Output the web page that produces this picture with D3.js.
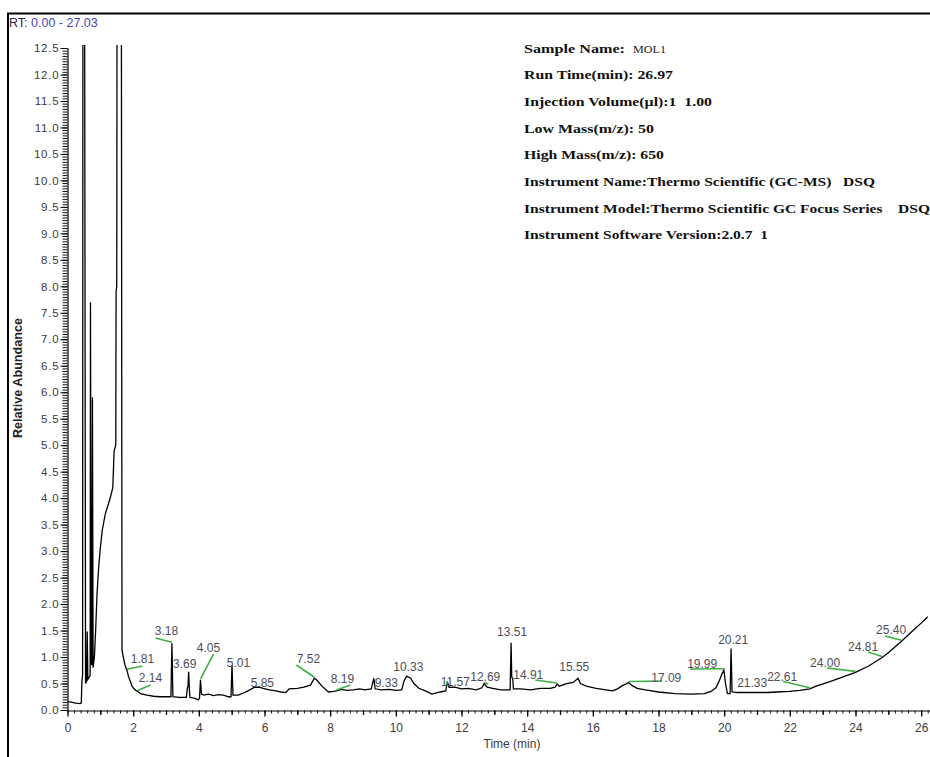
<!DOCTYPE html>
<html>
<head>
<meta charset="utf-8">
<script src="https://cdn.jsdelivr.net/npm/d3@7"></script>
<style>
  html, body { margin: 0; padding: 0; background: #fff; }
  svg { display: block; }
  .info { font-family: "Liberation Serif", "Times New Roman", serif; font-weight: bold; font-size: 13.5px; fill: #111; white-space: pre; }
</style>
</head>
<body>
<svg id="chart" width="930" height="757"></svg>
<script>
// Total ion chromatogram of sample MOL1 (retention time in minutes, relative abundance)
const traceTime = [
  0.00, 0.12, 0.25, 0.38, 0.42, 0.44, 0.46, 0.47, 0.52, 0.55,
  0.58, 0.60, 0.62, 0.66, 0.69, 0.70, 0.72, 0.74, 0.76, 0.78,
  0.82, 0.86, 0.90, 0.95, 0.99, 1.06, 1.15, 1.25, 1.32, 1.38,
  1.42, 1.47, 1.48, 1.50, 1.51, 1.64, 1.66, 1.70, 1.75, 1.81,
  1.86, 1.92, 1.97, 2.06, 2.14, 2.22, 2.42, 2.62, 2.82, 3.00,
  3.15, 3.18, 3.21, 3.40, 3.62, 3.65, 3.67, 3.69, 3.71, 3.73,
  3.88, 3.98, 4.02, 4.05, 4.08, 4.15, 4.30, 4.45, 4.60, 4.75,
  4.90, 4.98, 5.01, 5.04, 5.20, 5.40, 5.55, 5.70, 5.85, 5.95,
  6.15, 6.35, 6.50, 6.65, 6.75, 7.00, 7.20, 7.40, 7.52, 7.60,
  7.75, 7.95, 8.10, 8.19, 8.35, 8.50, 8.70, 8.90, 9.05, 9.25,
  9.33, 9.37, 9.55, 9.80, 10.00, 10.18, 10.25, 10.33, 10.45, 10.55,
  10.70, 10.90, 11.10, 11.35, 11.52, 11.57, 11.62, 11.80, 12.00, 12.20,
  12.45, 12.62, 12.69, 12.78, 12.95, 13.20, 13.48, 13.51, 13.53, 13.56,
  13.58, 13.80, 14.10, 14.40, 14.70, 14.85, 14.91, 14.98, 15.20, 15.40,
  15.55, 15.62, 15.80, 16.10, 16.40, 16.60, 16.75, 16.90, 17.00, 17.09,
  17.20, 17.35, 17.60, 18.00, 18.50, 19.00, 19.40, 19.60, 19.75, 19.85,
  19.93, 19.99, 20.04, 20.10, 20.18, 20.21, 20.24, 20.40, 20.80, 21.33,
  21.60, 22.00, 22.30, 22.61, 22.80, 23.20, 23.60, 24.00, 24.40, 24.81,
  25.00, 25.40, 25.80, 26.00, 26.20
];
const traceAbundance = [
  0.16, 0.15, 0.13, 0.12, 0.13, 0.55, 0.66, 14, 14, 0.50,
  0.55, 1.48, 0.58, 0.62, 0.65, 7.70, 0.90, 0.85, 5.90, 0.80,
  1.00, 1.55, 2.20, 2.70, 3.00, 3.40, 3.70, 3.90, 4.05, 4.20,
  4.90, 5.00, 7.90, 8.00, 14, 14, 1.13, 1.00, 0.85, 0.75,
  0.63, 0.53, 0.44, 0.38, 0.35, 0.31, 0.28, 0.26, 0.25, 0.25,
  0.25, 1.26, 0.25, 0.24, 0.24, 0.42, 0.45, 0.72, 0.40, 0.24,
  0.22, 0.19, 0.22, 0.57, 0.30, 0.28, 0.30, 0.27, 0.29, 0.28,
  0.25, 0.25, 0.85, 0.28, 0.28, 0.33, 0.38, 0.43, 0.43, 0.41,
  0.38, 0.36, 0.34, 0.33, 0.40, 0.41, 0.43, 0.47, 0.60, 0.56,
  0.45, 0.34, 0.35, 0.36, 0.39, 0.37, 0.38, 0.40, 0.38, 0.40,
  0.60, 0.40, 0.38, 0.39, 0.37, 0.38, 0.55, 0.64, 0.60, 0.50,
  0.41, 0.36, 0.30, 0.34, 0.36, 0.53, 0.43, 0.43, 0.40, 0.41,
  0.38, 0.42, 0.50, 0.43, 0.41, 0.38, 0.38, 1.27, 0.62, 0.60,
  0.40, 0.40, 0.38, 0.41, 0.41, 0.43, 0.49, 0.45, 0.50, 0.52,
  0.60, 0.50, 0.45, 0.41, 0.38, 0.36, 0.40, 0.46, 0.49, 0.52,
  0.46, 0.41, 0.38, 0.34, 0.31, 0.30, 0.31, 0.35, 0.42, 0.55,
  0.68, 0.76, 0.50, 0.31, 0.31, 1.16, 0.34, 0.33, 0.33, 0.33,
  0.34, 0.35, 0.37, 0.40, 0.45, 0.53, 0.62, 0.71, 0.83, 0.99,
  1.08, 1.30, 1.53, 1.64, 1.76
];

// Retention times of the labelled peaks
const peakRT = [
  1.81, 2.14, 3.18, 3.69, 4.05, 5.01, 5.85, 7.52, 8.19, 9.33, 10.33, 11.57,
  12.69, 13.51, 14.91, 15.55, 17.09, 19.99, 20.21, 21.33, 22.61, 24.00, 24.81, 25.40
];

// Axis ticks
const xTickValues = d3.range(0, 27, 2);
const yTickValues = d3.range(0, 26).map(i => i * 0.5);

// Run header lines
const runInfoLines = [
  "Sample Name:",
  "Run Time(min): 26.97",
  "Injection Volume(\u00b5l):1  1.00",
  "Low Mass(m/z): 50",
  "High Mass(m/z): 650",
  "Instrument Name:Thermo Scientific (GC-MS)   DSQ",
  "Instrument Model:Thermo Scientific GC Focus Series    DSQ",
  "Instrument Software Version:2.0.7  1"
];
const sampleName = "MOL1";

// Label placement, pixels relative to each peak point; leader end relative to the label
const labelLayout = [
  { dx: 15.5, dy: -11.3, lead: [0, 7] },
  { dx: 12.7, dy: -13.5, lead: [0, 7] },
  { dx: -5.5, dy: -12.3, lead: [-11, 7] },
  { dx: -4, dy: -8, lead: null },
  { dx: 8, dy: -31.8, lead: [5, 6] },
  { dx: 6.4, dy: -2, lead: null },
  { dx: 2.8, dy: -4.2, lead: null },
  { dx: -6, dy: -19.2, lead: [-12, 6] },
  { dx: 6, dy: -12, lead: [8, 6] },
  { dx: 12.5, dy: 4.8, lead: null },
  { dx: 1.7, dy: -9.2, lead: null },
  { dx: 7.9, dy: 0, lead: [-9, 4] },
  { dx: 1.1, dy: -6.5, lead: [3, 7] },
  { dx: 1, dy: -10.7, lead: null },
  { dx: -28.8, dy: -9, lead: [7, 5] },
  { dx: -3.8, dy: -11.2, lead: null },
  { dx: 37.6, dy: -4.5, lead: [-4, 3] },
  { dx: -21.7, dy: -5.8, lead: [-12, 5] },
  { dx: 2.1, dy: -8.6, lead: null },
  { dx: -15.7, dy: -9.5, lead: null },
  { dx: -27.7, dy: -12.3, lead: [1, 5] },
  { dx: -30.4, dy: -9.4, lead: [2, 5] },
  { dx: -19, dy: -10.6, lead: [5, 5] },
  { dx: -10.4, dy: -11.2, lead: [-6, 6] }
];

const svg = d3.select("#chart");
const sansFont = '"Liberation Sans", Arial, sans-serif';

const x = d3.scaleLinear().domain([0, 27.03]).range([67.5, 955]);
const y = d3.scaleLinear().domain([0, 12.5]).range([710, 48]);

// Outer frame
svg.append("path")
  .attr("d", "M8,757V13.5H930")
  .attr("fill", "none")
  .attr("stroke", "#000")
  .attr("stroke-width", 2);

// Range caption
const rt = svg.append("text")
  .attr("x", 9).attr("y", 27)
  .attr("font-family", sansFont)
  .attr("font-size", 12.5);
rt.append("tspan").attr("fill", "#2a2a55").text("RT: ");
rt.append("tspan").attr("fill", "#4646b8").text("0.00 - 27.03");

// Plot clip
svg.append("defs").append("clipPath").attr("id", "plotClip")
  .append("rect").attr("x", 67).attr("y", 45).attr("width", 870).attr("height", 666);

// Y axis: minor ticks, then labelled major ticks
const yMinor = svg.append("g").attr("transform", "translate(67.5,0)")
  .call(d3.axisLeft(y).tickValues(d3.range(0, 251).map(i => i * 0.05)).tickSize(5).tickFormat(""));
yMinor.select(".domain").remove();
yMinor.selectAll("line").attr("stroke", "#111");

const yAxis = svg.append("g").attr("transform", "translate(67.5,0)")
  .call(d3.axisLeft(y).tickValues(yTickValues).tickSize(7).tickSizeOuter(0).tickPadding(1)
    .tickFormat(d3.format(".1f")));
yAxis.select(".domain").attr("stroke", "#000").attr("stroke-width", 1.2);
yAxis.selectAll("line").attr("stroke", "#000");
yAxis.selectAll("text")
  .attr("font-family", sansFont)
  .attr("font-size", 11.5)
  .attr("letter-spacing", 0.8)
  .attr("fill", "#3c3c3c");

// X axis: minor ticks, integer ticks, labelled major ticks
const xMinor = svg.append("g").attr("transform", "translate(0,710.5)")
  .call(d3.axisBottom(x).tickValues(d3.range(0, 136).map(i => i * 0.2)).tickSize(3).tickFormat(""));
xMinor.select(".domain").remove();
xMinor.selectAll("line").attr("stroke", "#111");

const xMid = svg.append("g").attr("transform", "translate(0,710.5)")
  .call(d3.axisBottom(x).tickValues(d3.range(1, 27, 2)).tickSize(4.5).tickFormat(""));
xMid.select(".domain").remove();
xMid.selectAll("line").attr("stroke", "#000").attr("stroke-width", 1.3);

const xAxis = svg.append("g").attr("transform", "translate(0,710.5)")
  .call(d3.axisBottom(x).tickValues(xTickValues).tickSize(6).tickSizeOuter(0).tickPadding(7)
    .tickFormat(d3.format("d")));
xAxis.select(".domain").attr("stroke", "#000").attr("stroke-width", 1.2);
xAxis.selectAll("line").attr("stroke", "#000").attr("stroke-width", 1.3);
xAxis.selectAll("text")
  .attr("font-family", sansFont)
  .attr("font-size", 12)
  .attr("fill", "#3c3c3c");

// Axis titles
svg.append("text")
  .attr("transform", "translate(22,378) rotate(-90)")
  .attr("text-anchor", "middle")
  .attr("font-family", '"Liberation Sans Narrow", "Arial Narrow", "Liberation Sans", Arial, sans-serif')
  .attr("font-weight", "bold")
  .attr("font-size", 12.5)
  .attr("textLength", 120)
  .attr("lengthAdjust", "spacingAndGlyphs")
  .attr("fill", "#222")
  .text("Relative Abundance");

svg.append("text")
  .attr("x", 512).attr("y", 748)
  .attr("text-anchor", "middle")
  .attr("font-family", sansFont)
  .attr("font-size", 12)
  .attr("fill", "#3c3c3c")
  .text("Time (min)");

// Chromatogram trace
const traceData = traceTime.map((t, i) => ({ t, v: traceAbundance[i] }));
svg.append("path")
  .datum(traceData)
  .attr("clip-path", "url(#plotClip)")
  .attr("fill", "none")
  .attr("stroke", "#000")
  .attr("stroke-width", 1.3)
  .attr("stroke-linejoin", "miter")
  .attr("d", d3.line().x(d => x(d.t)).y(d => y(d.v)));

// Peak labels with leader lines
const abundanceAt = t => {
  const i = traceTime.findIndex(tt => Math.abs(tt - t) < 1e-9);
  return traceAbundance[i];
};
const peaks = peakRT.map((t, i) => {
  const px = x(t), py = y(abundanceAt(t));
  const lay = labelLayout[i];
  return { t, px, py, lx: px + lay.dx, ly: py + lay.dy, lead: lay.lead };
});

svg.append("g").selectAll("line")
  .data(peaks.filter(p => p.lead))
  .join("line")
  .attr("x1", p => p.px).attr("y1", p => p.py - 1)
  .attr("x2", p => p.lx + p.lead[0]).attr("y2", p => p.ly + p.lead[1])
  .attr("stroke", "#3cb043")
  .attr("stroke-width", 1.6);

svg.append("g").selectAll("text")
  .data(peaks)
  .join("text")
  .attr("x", p => p.lx).attr("y", p => p.ly)
  .attr("dy", "0.36em")
  .attr("text-anchor", "middle")
  .attr("font-family", sansFont)
  .attr("font-size", 12)
  .attr("fill", "#4e4e5a")
  .text(p => p.t.toFixed(2));

// Run header block
const infoWidths = [101, 149, 188, 130, 140, 351, 406, 244];
svg.append("g").selectAll("text")
  .data(runInfoLines)
  .join("text")
  .attr("class", "info")
  .attr("x", 524)
  .attr("y", (d, i) => 52.5 + i * 26.7)
  .attr("textLength", (d, i) => infoWidths[i])
  .attr("lengthAdjust", "spacingAndGlyphs")
  .text(d => d);

svg.append("text")
  .attr("x", 633).attr("y", 52.5)
  .attr("font-family", '"Liberation Serif", "Times New Roman", serif')
  .attr("font-size", 10)
  .attr("textLength", 33)
  .attr("lengthAdjust", "spacingAndGlyphs")
  .attr("fill", "#222")
  .text(sampleName);
</script>
</body>
</html>
